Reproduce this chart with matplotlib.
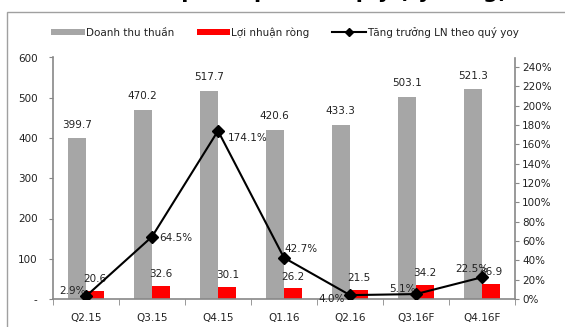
import matplotlib
matplotlib.use("Agg")
import matplotlib.pyplot as plt
from matplotlib.patches import Rectangle
from matplotlib.lines import Line2D
from matplotlib.patches import Patch
import numpy as np

# data
quarters = ["Q2.15", "Q3.15", "Q4.15", "Q1.16", "Q2.16", "Q3.16F", "Q4.16F"]
revenue = [399.7, 470.2, 517.7, 420.6, 433.3, 503.1, 521.3]
net_profit = [20.6, 32.6, 30.1, 26.2, 21.5, 34.2, 36.9]
growth_yoy = [2.9, 64.5, 174.1, 42.7, 4.0, 5.1, 22.5]  # percent

# label offsets (points) and alignment for the growth labels, as in the source
growth_lbl = [(0, 4, "right"), (5, -1, "left"), (7, -5, "left"), (0, 6, "left"),
              (-4, -3, "right"), (0, 4, "right"), (-7, 6, "center")]

GREY = "#a6a6a6"
RED = "#ff0000"
AX_COL = "#888888"
TXT = "#222222"

plt.rcParams["font.family"] = ["DejaVu Sans"]
plt.rcParams["font.size"] = 7

fig = plt.figure(figsize=(5.65, 3.27), dpi=100)
W, H = 565, 327

# title is cut off in the source: only descenders show at the top edge
fig.text(507 / W, 1 + 1.5 / H, "Doanh thu và lợi nhuận theo quý (tỷ đồng)",
         ha="right", va="baseline", fontsize=15, fontweight="bold", color="black")
fig.patches.append(Rectangle((7 / W, -0.05), 1.2, 1 - 12 / H + 0.05,
                             transform=fig.transFigure, fill=False,
                             edgecolor="#a0a0a0", linewidth=1.0))

ax = fig.add_axes([53 / W, 1 - 299 / H, 462 / W, 241.5 / H])
x = np.arange(len(quarters))
bw = 0.28

ax.bar(x - 0.14, revenue, bw, color=GREY, zorder=2)
ax.bar(x + 0.14, net_profit, bw, color=RED, zorder=2)

for i, v in enumerate(revenue):
    ax.annotate(f"{v:.1f}", (x[i] - 0.14, v), xytext=(0, 6), textcoords="offset points",
                ha="center", va="bottom", color=TXT, fontsize=7.5)
for i, v in enumerate(net_profit):
    ax.annotate(f"{v:.1f}", (x[i] + 0.14, v), xytext=(0, 5), textcoords="offset points",
                ha="center", va="bottom", color=TXT, fontsize=7.5)

ax.set_xlim(-0.5, len(quarters) - 0.5)
ax.set_ylim(0, 600)
ax.set_yticks(range(0, 601, 100))
ax.set_yticklabels(["-"] + [str(v) for v in range(100, 601, 100)])
ax.set_xticks(x)
ax.set_xticklabels(quarters)
ax.set_xticks(np.arange(-0.5, len(quarters)), minor=True)
ax.tick_params(axis="x", which="major", length=0, pad=10, colors=TXT, labelsize=7.5)
ax.tick_params(axis="x", which="minor", length=4, color=AX_COL, direction="out")
ax.tick_params(axis="y", length=3, color=AX_COL, colors=TXT, labelsize=7.5, pad=8)
for s in ["top", "right"]:
    ax.spines[s].set_visible(False)
for s in ["left", "bottom"]:
    ax.spines[s].set_color(AX_COL)
    ax.spines[s].set_linewidth(1.2)

ax2 = ax.twinx()
ax2.plot(x, growth_yoy, color="black", linewidth=1.5, marker="D",
         markersize=6, zorder=5)
for i, v in enumerate(growth_yoy):
    dx, dy, ha = growth_lbl[i]
    ax2.annotate(f"{v:.1f}%", (x[i], v), xytext=(dx, dy), textcoords="offset points",
                 ha=ha, va="center", color=TXT, fontsize=7.5)
ax2.set_ylim(0, 250)
ax2.set_yticks(range(0, 241, 20))
ax2.set_yticklabels([f"{v}%" for v in range(0, 241, 20)])
ax2.tick_params(axis="y", length=3, color=AX_COL, colors=TXT, labelsize=7.5, pad=2)
for s in ["top", "left", "bottom"]:
    ax2.spines[s].set_visible(False)
ax2.spines["right"].set_color(AX_COL)
ax2.spines["right"].set_linewidth(1.2)

handles = [Patch(facecolor=GREY, label="Doanh thu thuần"),
           Patch(facecolor=RED, label="Lợi nhuận ròng"),
           Line2D([], [], color="black", marker="D", markersize=4, linewidth=1.5,
                  label="Tăng trưởng LN theo quý yoy")]
fig.legend(handles=handles, loc="center", bbox_to_anchor=(285 / W, 1 - 32 / H), ncol=3,
           frameon=False, fontsize=7.5, handlelength=3.2, handleheight=0.5,
           handletextpad=0.1, columnspacing=2.2, labelcolor=TXT)

fig.savefig("out.png", dpi=100)
